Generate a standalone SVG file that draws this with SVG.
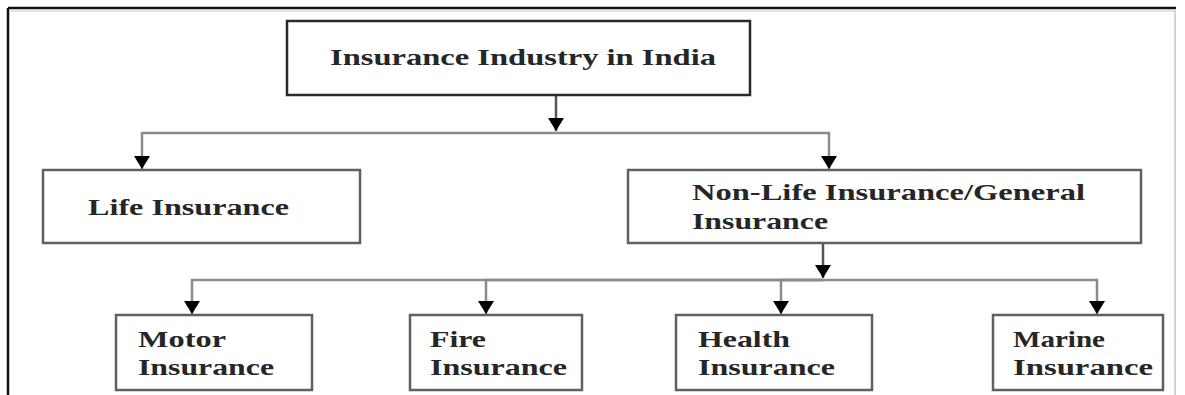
<svg xmlns="http://www.w3.org/2000/svg" width="1185" height="395" viewBox="0 0 1185 395">
<style>
  .box { fill: #ffffff; stroke: #606060; stroke-width: 2.5; }
  .top { stroke: #2a2a2a; }
  .lbl { font-family: "Liberation Serif", "Times New Roman", serif; font-weight: bold; font-size: 23px; fill: #262626; }
  .conn { fill: none; stroke: #8c8c8c; stroke-width: 2.5; }
  .stem { fill: none; stroke: #555555; stroke-width: 2.5; }
</style>
<defs>
  <marker id="arr" markerUnits="userSpaceOnUse" markerWidth="14" markerHeight="16" viewBox="0 0 14 16" refX="13" refY="8" orient="auto">
    <path d="M0,0 L13,8 L0,16 z" fill="#000000"/>
  </marker>
</defs>
<rect x="0" y="0" width="1185" height="395" fill="#ffffff"/>
<g id="frame">
  <line x1="8" y1="8" x2="1176" y2="8" stroke="#111111" stroke-width="2.5"/>
  <line x1="8" y1="8" x2="8" y2="395" stroke="#111111" stroke-width="2.5"/>
  <line x1="1175" y1="9" x2="1175" y2="395" stroke="#d4d4d4" stroke-width="2"/>
  <line x1="10" y1="11" x2="1174" y2="11" stroke="#dddddd" stroke-width="1.5"/>
</g>
<g id="connectors">
  <path class="stem" d="M556,96 V131" marker-end="url(#arr)"/>
  <path class="conn" d="M556,133 H142 V169" marker-end="url(#arr)"/>
  <path class="conn" d="M556,133 H829 V169" marker-end="url(#arr)"/>
  <path class="stem" d="M823,244 V278" marker-end="url(#arr)"/>
  <path class="conn" d="M823,280 H192 V314" marker-end="url(#arr)"/>
  <path class="conn" d="M823,280 H486 V314" marker-end="url(#arr)"/>
  <path class="conn" d="M823,280 H781 V314" marker-end="url(#arr)"/>
  <path class="conn" d="M823,280 H1097 V314" marker-end="url(#arr)"/>
</g>
<g id="industry">
  <rect class="box top" x="287" y="21" width="463" height="74"/>
  <text class="lbl" x="330" y="65" textLength="386" lengthAdjust="spacingAndGlyphs">Insurance Industry in India</text>
</g>
<g id="life">
  <rect class="box" x="43" y="170" width="317" height="73"/>
  <text class="lbl" x="88" y="215" textLength="201" lengthAdjust="spacingAndGlyphs">Life Insurance</text>
</g>
<g id="nonlife">
  <rect class="box" x="628" y="170" width="513" height="73"/>
  <text class="lbl" x="692" y="200" textLength="393" lengthAdjust="spacingAndGlyphs">Non-Life Insurance/General</text>
  <text class="lbl" x="692" y="229" textLength="136" lengthAdjust="spacingAndGlyphs">Insurance</text>
</g>
<g id="motor">
  <rect class="box" x="116" y="315" width="196" height="75"/>
  <text class="lbl" x="138" y="347" textLength="88" lengthAdjust="spacingAndGlyphs">Motor</text>
  <text class="lbl" x="138" y="375" textLength="136" lengthAdjust="spacingAndGlyphs">Insurance</text>
</g>
<g id="fire">
  <rect class="box" x="410" y="315" width="172" height="75"/>
  <text class="lbl" x="430" y="347" textLength="56" lengthAdjust="spacingAndGlyphs">Fire</text>
  <text class="lbl" x="430" y="375" textLength="137" lengthAdjust="spacingAndGlyphs">Insurance</text>
</g>
<g id="health">
  <rect class="box" x="676" y="315" width="196" height="75"/>
  <text class="lbl" x="698" y="347" textLength="92" lengthAdjust="spacingAndGlyphs">Health</text>
  <text class="lbl" x="698" y="375" textLength="137" lengthAdjust="spacingAndGlyphs">Insurance</text>
</g>
<g id="marine">
  <rect class="box" x="993" y="315" width="170" height="75"/>
  <text class="lbl" x="1013" y="347" textLength="92" lengthAdjust="spacingAndGlyphs">Marine</text>
  <text class="lbl" x="1013" y="375" textLength="140" lengthAdjust="spacingAndGlyphs">Insurance</text>
</g>
</svg>
